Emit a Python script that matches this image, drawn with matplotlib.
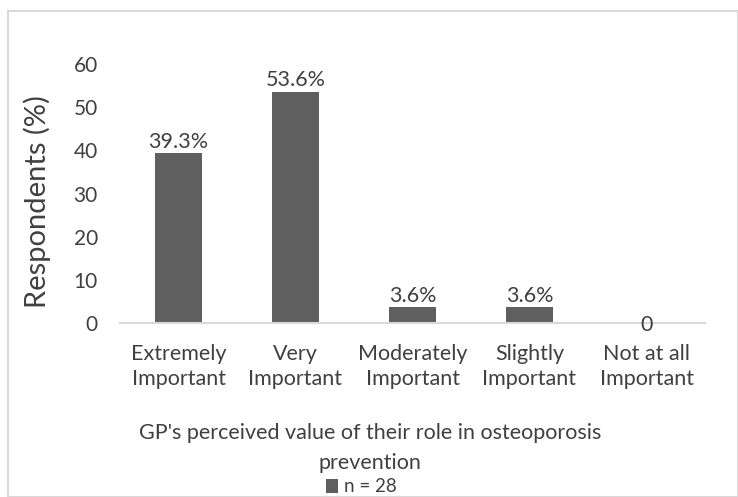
import matplotlib
matplotlib.use("Agg")
import matplotlib.pyplot as plt
from matplotlib.patches import Rectangle

categories = ["Extremely\nImportant", "Very\nImportant", "Moderately\nImportant", "Slightly\nImportant", "Not at all\nImportant"]
values = [39.3, 53.6, 3.6, 3.6, 0]
labels = ["39.3%", "53.6%", "3.6%", "3.6%", "0"]
yticks = [0, 10, 20, 30, 40, 50, 60]

plt.rcParams['font.family'] = ['Lato', 'DejaVu Sans']
txt = '#404040'
bar_c = '#5f5f5f'

fig = plt.figure(figsize=(7.38, 4.97), dpi=100)
fig.patches.append(Rectangle((8/738, 0), 730/738, 1 - 11/497, transform=fig.transFigure,
                             fill=False, edgecolor='#d9d9d9', linewidth=1.5))
ax = fig.add_axes([120/738, 1 - 323/497, 585/738, 259/497])
x = list(range(len(categories)))
bars = ax.bar(x, values, width=0.40, color=bar_c)
for xi, v, l in zip(x, values, labels):
    if v == 0:
        ax.text(xi, v - 0.4, l, ha='center', va='center', fontsize=15.5, color=txt)
    else:
        ax.text(xi, v + 0.3, l, ha='center', va='bottom', fontsize=15.5, color=txt)
ax.set_xlim(-0.5, len(categories) - 0.5)
ax.set_ylim(0, 60)
ax.set_yticks(yticks)
ax.set_xticks(x)
ax.set_xticklabels(categories, fontsize=15.5, color=txt, linespacing=1.35)
ax.tick_params(axis='y', labelsize=15, labelcolor=txt, length=0, pad=16)
ax.tick_params(axis='x', length=0, pad=15)
for s in ['top', 'right', 'left']:
    ax.spines[s].set_visible(False)
ax.spines['bottom'].set_color('#d9d9d9')
ax.spines['bottom'].set_linewidth(1.5)
ax.set_ylabel("Respondents (%)", fontsize=21, color=txt)
ax.yaxis.set_label_coords(-0.118, 0.47)
fig.text(370/738, 1 - 448/497, "GP's perceived value of their role in osteoporosis\nprevention",
         ha='center', va='center', fontsize=15.5, color=txt, linespacing=1.6)
leg = ax.legend([bars], ["n = 28"], loc='center', bbox_to_anchor=(361/738, 1 - 487/497),
                bbox_transform=fig.transFigure, frameon=False, fontsize=13.5,
                handlelength=0.65, handleheight=0.8, handletextpad=0.3, labelcolor=txt,
                borderpad=0)
fig.savefig("out.png", dpi=100)
